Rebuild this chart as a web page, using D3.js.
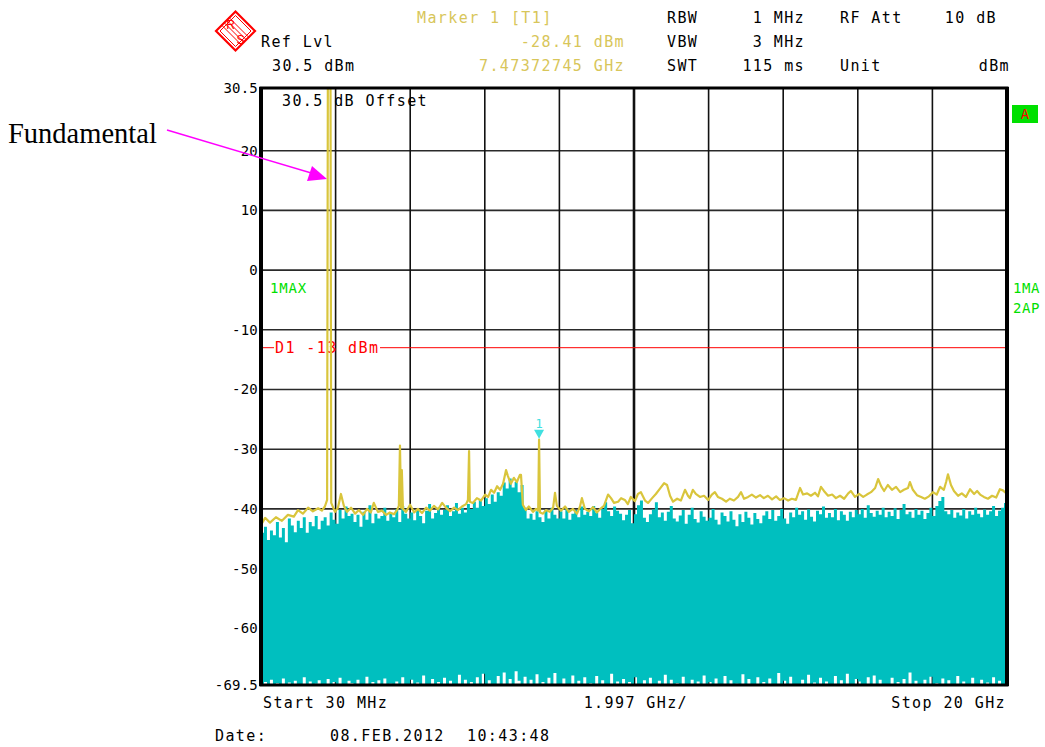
<!DOCTYPE html>
<html>
<head>
<meta charset="utf-8">
<script src="https://cdn.jsdelivr.net/npm/d3@7"></script>
<style>
  html, body { margin: 0; padding: 0; background: #fff; }
  svg { display: block; }
</style>
</head>
<body>
<svg id="chart" width="1045" height="747"></svg>
<script>
// ---------------- DATA ----------------
const startGHz = 0.03, stopGHz = 20, divGHz = 1.997;
const refLevel = 30.5, bottomLevel = -69.5;
const yTickValues = [30.5, 20, 10, 0, -10, -20, -30, -40, -50, -60, -69.5];
const displayLine = -13;
const markerFreq = 7.47372745, markerLevel = -28.41;

// Trace 1 (max hold, yellow): [GHz, dBm]
const trace1 = [
 [0.03,-42.7],[0.14,-41.5],[0.27,-42.3],[0.43,-41.4],[0.59,-42.0],[0.75,-41.0],[0.91,-41.3],[1.02,-40.2],
 [1.15,-40.8],[1.29,-39.8],[1.42,-40.4],[1.56,-39.9],[1.66,-40.3],[1.74,-39.6],[1.80,-38.5],[1.82,33],
 [1.89,33],[1.91,-39.0],[2.01,-40.5],[2.09,-39.8],[2.17,-37.5],[2.25,-39.5],[2.33,-40.5],[2.44,-39.8],
 [2.55,-40.8],[2.65,-40.2],[2.76,-41.0],[2.87,-40.0],[2.97,-40.6],[3.05,-39.0],[3.16,-40.5],[3.27,-40.3],
 [3.38,-41.0],[3.48,-40.6],[3.59,-40.9],[3.67,-40.2],[3.72,-39.5],[3.75,-29.4],[3.78,-39.8],[3.80,-33.5],
 [3.83,-40.0],[3.91,-40.5],[4.02,-39.3],[4.13,-40.6],[4.23,-40.0],[4.34,-40.7],[4.45,-39.8],[4.55,-40.3],
 [4.66,-39.5],[4.77,-40.1],[4.88,-39.0],[4.98,-39.8],[5.09,-40.4],[5.20,-39.8],[5.30,-40.2],[5.41,-39.6],
 [5.52,-39.2],[5.57,-38.5],[5.60,-30.3],[5.62,-38.8],[5.70,-39.0],[5.81,-38.2],[5.92,-38.6],[6.03,-37.6],
 [6.11,-38.0],[6.19,-36.8],[6.27,-37.3],[6.35,-36.2],[6.43,-36.8],[6.51,-35.8],[6.59,-33.5],[6.64,-34.5],
 [6.72,-35.8],[6.80,-34.8],[6.88,-35.5],[6.96,-34.3],[6.99,-34.3],[7.04,-39.3],[7.12,-40.2],[7.20,-39.6],
 [7.31,-40.5],[7.39,-40.0],[7.45,-40.3],[7.4737,-28.41],[7.50,-40.6],[7.58,-40.8],[7.66,-40.2],[7.76,-40.5],
 [7.85,-39.8],[7.90,-37.3],[7.95,-39.5],[8.06,-40.3],[8.17,-39.6],[8.27,-40.5],[8.38,-40.0],[8.49,-40.8],
 [8.57,-39.6],[8.62,-38.2],[8.70,-40.0],[8.81,-40.4],[8.92,-39.7],[9.02,-40.6],[9.13,-39.9],[9.21,-39.5],
 [9.32,-37.6],[9.40,-38.2],[9.48,-39.0],[9.59,-38.8],[9.67,-38.2],[9.77,-38.5],[9.85,-39.2],[9.93,-38.0],
 [10.04,-38.7],[10.12,-37.5],[10.20,-37.2],[10.31,-38.6],[10.39,-39.0],[10.50,-38.2],[10.60,-37.5],[10.71,-36.6],
 [10.82,-35.7],[10.90,-36.0],[10.98,-37.8],[11.06,-38.8],[11.17,-38.3],[11.27,-38.6],[11.38,-36.8],[11.46,-37.8],
 [11.51,-38.2],[11.59,-36.8],[11.67,-37.5],[11.78,-38.0],[11.89,-37.8],[12.00,-38.5],[12.10,-37.6],[12.18,-37.2],
 [12.26,-38.0],[12.37,-38.3],[12.48,-38.8],[12.58,-38.3],[12.69,-38.6],[12.80,-38.0],[12.88,-37.2],[12.96,-38.3],
 [13.07,-38.0],[13.17,-37.6],[13.28,-38.1],[13.39,-37.7],[13.49,-38.2],[13.60,-37.8],[13.71,-38.4],[13.82,-37.9],
 [13.92,-38.5],[14.03,-38.2],[14.14,-38.6],[14.24,-38.3],[14.35,-38.5],[14.46,-36.5],[14.54,-37.6],[14.65,-37.4],
 [14.75,-37.8],[14.86,-37.3],[14.94,-37.9],[15.02,-36.3],[15.10,-37.0],[15.21,-37.8],[15.32,-37.6],[15.42,-38.2],
 [15.53,-37.8],[15.64,-38.3],[15.75,-37.4],[15.82,-37.0],[15.93,-38.0],[16.04,-37.5],[16.15,-38.0],[16.25,-37.6],
 [16.36,-37.2],[16.47,-36.5],[16.55,-35.0],[16.63,-36.2],[16.71,-37.0],[16.81,-36.0],[16.92,-36.8],[17.03,-36.3],
 [17.14,-37.2],[17.24,-36.8],[17.35,-36.5],[17.40,-35.5],[17.48,-36.8],[17.59,-37.7],[17.70,-38.0],[17.80,-38.3],
 [17.91,-37.9],[18.02,-37.2],[18.12,-37.6],[18.21,-36.3],[18.31,-36.8],[18.37,-35.5],[18.42,-34.2],[18.50,-36.0],
 [18.58,-37.0],[18.69,-37.8],[18.79,-37.4],[18.90,-38.0],[19.01,-36.7],[19.12,-37.5],[19.20,-37.0],[19.28,-37.6],
 [19.38,-38.0],[19.49,-38.3],[19.60,-37.8],[19.71,-38.1],[19.81,-36.7],[19.89,-36.9],[20.00,-37.5]
];

// Trace 2 (auto peak, cyan band): upper and lower level per sweep bin (250 bins)
const trace2Top = [
 -44.0,-43.0,-45.2,-43.6,-44.4,-42.2,-44.8,-43.2,-45.6,-41.6,
 -42.8,-43.9,-42.0,-43.2,-41.4,-44.0,-42.2,-42.9,-41.2,-43.4,
 -42.0,-41.4,-42.8,-40.6,-41.8,-42.5,-40.2,-41.6,-39.6,-41.2,
 -40.8,-42.2,-41.0,-43.0,-40.5,-41.8,-39.4,-42.4,-40.8,-41.6,
 -41.2,-39.8,-42.0,-40.6,-41.4,-40.0,-42.2,-39.5,-40.8,-41.6,
 -40.6,-41.9,-40.0,-41.2,-42.4,-40.3,-39.2,-41.6,-40.7,-39.8,
 -41.0,-40.2,-39.4,-41.2,-40.4,-39.0,-40.8,-39.8,-40.6,-39.2,
 -40.0,-38.8,-39.8,-38.5,-39.5,-38.2,-39.2,-37.6,-38.8,-37.2,
 -37.8,-35.6,-36.6,-34.9,-36.4,-35.5,-37.2,-36.0,-39.8,-41.6,
 -40.8,-41.8,-40.4,-41.4,-42.2,-40.2,-41.6,-39.8,-41.0,-41.6,
 -40.4,-41.6,-39.9,-41.8,-40.8,-40.2,-41.4,-39.6,-41.0,-40.5,
 -41.2,-39.5,-40.6,-41.5,-40.0,-38.9,-40.4,-41.2,-39.6,-40.3,
 -40.8,-41.9,-41.0,-40.2,-42.4,-40.9,-39.4,-38.6,-41.5,-42.2,
 -40.9,-40.1,-38.9,-41.4,-40.6,-42.0,-40.5,-39.5,-41.6,-42.1,
 -41.1,-40.2,-42.5,-41.0,-39.8,-41.7,-42.3,-40.4,-41.3,-42.0,
 -41.5,-40.0,-41.8,-42.6,-40.6,-41.2,-42.1,-40.4,-41.8,-42.9,
 -40.9,-42.2,-40.5,-41.5,-42.6,-40.7,-41.7,-42.4,-41.1,-40.4,
 -41.7,-40.2,-42.0,-41.2,-40.0,-41.6,-42.5,-40.6,-41.4,-39.8,
 -41.0,-40.4,-41.8,-40.1,-41.3,-42.1,-40.3,-40.9,-39.6,-41.5,
 -40.7,-41.4,-40.0,-41.9,-40.4,-41.0,-42.0,-40.5,-41.4,-40.2,
 -40.9,-40.0,-41.5,-39.4,-40.7,-41.3,-40.3,-41.0,-39.8,-41.4,
 -40.5,-41.2,-39.9,-41.7,-40.2,-39.2,-40.9,-40.5,-41.5,-40.0,
 -41.0,-40.3,-41.7,-40.7,-39.8,-41.2,-39.5,-38.7,-38.0,-40.4,
 -40.9,-40.2,-41.5,-40.6,-41.1,-40.0,-41.6,-40.4,-41.0,-39.8,
 -40.8,-41.4,-40.1,-41.0,-40.4,-39.5,-41.2,-40.3,-39.8,-39.0
];
const trace2Bottom = [
 -69.5,-69.0,-69.5,-68.6,-69.5,-69.2,-69.5,-68.4,-69.5,-69.1,
 -69.5,-68.8,-69.5,-69.5,-68.2,-69.5,-68.9,-69.5,-69.3,-68.7,
 -69.5,-69.5,-68.5,-69.5,-69.0,-69.5,-68.3,-69.5,-69.5,-68.8,
 -69.2,-69.5,-68.6,-69.5,-69.5,-68.1,-69.5,-69.0,-69.5,-68.7,
 -69.5,-68.4,-69.5,-69.3,-69.5,-68.9,-69.5,-68.2,-69.5,-69.5,
 -68.6,-69.5,-69.1,-69.5,-67.9,-69.5,-69.5,-68.5,-69.5,-69.0,
 -69.5,-68.3,-69.5,-68.8,-69.5,-69.5,-67.8,-69.5,-68.6,-69.5,
 -69.0,-69.5,-68.2,-69.5,-67.6,-69.5,-68.7,-69.5,-69.5,-68.0,
 -69.5,-67.4,-69.5,-68.5,-69.5,-67.2,-68.8,-69.5,-68.1,-69.5,
 -68.6,-69.5,-67.7,-69.5,-69.0,-69.5,-68.3,-69.5,-67.5,-69.5,
 -69.5,-68.4,-69.5,-69.5,-67.9,-69.5,-68.8,-69.5,-68.2,-69.5,
 -69.2,-69.5,-68.0,-69.5,-68.7,-69.5,-69.5,-67.6,-69.5,-68.9,
 -69.5,-68.5,-69.5,-69.0,-69.5,-68.2,-69.5,-69.5,-68.7,-69.5,
 -68.3,-69.5,-69.5,-68.8,-69.5,-67.8,-69.5,-68.6,-69.5,-69.2,
 -69.5,-68.1,-69.5,-69.5,-68.6,-69.5,-68.9,-69.5,-67.9,-69.5,
 -69.0,-69.5,-68.4,-69.5,-69.5,-68.0,-69.5,-68.7,-69.5,-69.3,
 -69.5,-67.7,-69.5,-68.5,-69.5,-69.5,-68.2,-69.5,-69.0,-69.5,
 -68.4,-69.5,-69.5,-67.5,-69.5,-68.8,-69.5,-68.1,-69.5,-69.5,
 -69.5,-68.6,-69.5,-67.8,-69.5,-69.1,-69.5,-68.3,-69.5,-68.9,
 -69.5,-69.5,-68.0,-69.5,-68.7,-69.5,-67.6,-69.5,-69.5,-68.5,
 -68.9,-69.5,-69.5,-68.2,-69.5,-67.9,-69.5,-68.6,-69.5,-69.5,
 -69.5,-68.3,-69.5,-69.0,-69.5,-68.5,-69.5,-67.4,-69.5,-68.8,
 -69.5,-69.5,-68.6,-69.5,-68.1,-69.5,-69.2,-69.5,-68.4,-69.5,
 -68.7,-69.5,-69.5,-68.0,-69.5,-68.9,-69.5,-69.5,-68.3,-69.5,
 -69.5,-68.6,-69.5,-69.1,-69.5,-68.2,-69.5,-68.8,-69.5,-69.5
];

// header / annotation texts
const headerLeft = ["Ref Lvl", "30.5 dBm"];
const markerTexts = ["Marker 1 [T1]", "-28.41 dBm", "7.47372745 GHz"];
const settingsRows = [
  ["RBW", "1 MHz", "RF Att", "10 dB"],
  ["VBW", "3 MHz", "", ""],
  ["SWT", "115 ms", "Unit", "dBm"]
];
const footer = ["Start 30 MHz", "1.997 GHz/", "Stop 20 GHz"];
const dateTexts = ["Date:", "08.FEB.2012", "10:43:48"];

// ---------------- DRAW ----------------
const svg = d3.select("#chart");
const W = 1045, H = 747;
const L = 261, R = 1007, T = 88, B = 685;
const MONO = "'DejaVu Sans Mono', 'Liberation Mono', monospace";
const YEL = "#d9c53c", CYAN = "#00bfbf", GREEN = "#00e000", RED = "#ff0000";

svg.append("rect").attr("width", W).attr("height", H).attr("fill", "#fff");

const x = d3.scaleLinear().domain([startGHz, stopGHz]).range([L, R]);
const y = d3.scaleLinear().domain([bottomLevel, refLevel]).range([B, T]);

// grid
const gridG = svg.append("g");
const hGrid = yTickValues.filter(v => v !== refLevel && v !== bottomLevel);
gridG.selectAll("line.h").data(hGrid).join("line")
  .attr("x1", L).attr("x2", R).attr("y1", d => y(d)).attr("y2", d => y(d))
  .attr("stroke", "#2a2a2a").attr("stroke-width", 1.6);
const vGrid = d3.range(1, 10).map(k => startGHz + k * divGHz);
gridG.selectAll("line.v").data(vGrid).join("line")
  .attr("x1", d => x(d)).attr("x2", d => x(d)).attr("y1", T).attr("y2", B)
  .attr("stroke", "#111").attr("stroke-width", (d, i) => i === 4 ? 2.6 : 1.6);

// clip
svg.append("clipPath").attr("id", "plotclip").append("rect")
  .attr("x", L).attr("y", T).attr("width", R - L).attr("height", B - T);

// text in plot: offset
svg.append("text").attr("x", 282).attr("y", 106).text("30.5 dB Offset")
  .attr("font-family", MONO).attr("font-size", 15).attr("letter-spacing", 1.4).attr("fill", "#000");

// display line D1
svg.append("line").attr("x1", L).attr("x2", 274).attr("y1", y(displayLine)).attr("y2", y(displayLine))
  .attr("stroke", RED).attr("stroke-width", 1);
svg.append("line").attr("x1", 380).attr("x2", R).attr("y1", y(displayLine)).attr("y2", y(displayLine))
  .attr("stroke", RED).attr("stroke-width", 1);
svg.append("text").attr("x", 275).attr("y", y(displayLine) + 5.5).text("D1 -13 dBm")
  .attr("font-family", MONO).attr("font-size", 15).attr("letter-spacing", 1.4).attr("fill", RED);

// cyan band
const nBins = trace2Top.length;
const binW = (stopGHz - startGHz) / nBins;
const bandData = trace2Top.map((t, i) => ({ f: startGHz + i * binW, top: t, bot: trace2Bottom[i] }));
bandData.push({ f: stopGHz, top: trace2Top[nBins - 1], bot: trace2Bottom[nBins - 1] });
const area = d3.area().curve(d3.curveStepAfter)
  .x(d => x(d.f)).y0(d => y(d.bot)).y1(d => y(d.top));
svg.append("path").datum(bandData).attr("d", area).attr("fill", CYAN)
  .attr("clip-path", "url(#plotclip)");

// yellow trace
const line = d3.line().x(d => x(d[0])).y(d => y(d[1]));
svg.append("path").datum(trace1).attr("d", line).attr("fill", "none")
  .attr("stroke", YEL).attr("stroke-width", 2.2).attr("stroke-linejoin", "round")
  .attr("clip-path", "url(#plotclip)");

// marker
const mx = x(markerFreq), my = y(markerLevel);
svg.append("path").attr("d", `M${mx - 5},${my - 10} L${mx + 5},${my - 10} L${mx},${my - 1} Z`).attr("fill", "#40e0e0");
svg.append("text").attr("x", mx).attr("y", my - 12).attr("text-anchor", "middle").text("1")
  .attr("font-family", MONO).attr("font-size", 12).attr("fill", "#40e0e0");

// frame
svg.append("rect").attr("x", L).attr("y", T).attr("width", R - L).attr("height", B - T)
  .attr("fill", "none").attr("stroke", "#000").attr("stroke-width", 3);
svg.append("line").attr("x1", L).attr("x2", L).attr("y1", T - 1).attr("y2", B + 1).attr("stroke", "#000").attr("stroke-width", 4);
svg.append("line").attr("x1", R).attr("x2", R).attr("y1", T - 1).attr("y2", B + 1).attr("stroke", "#000").attr("stroke-width", 4);

// y axis labels
const yAxis = d3.axisLeft(y).tickValues(yTickValues).tickSize(0).tickPadding(3)
  .tickFormat(d => String(d));
const yAx = svg.append("g").attr("transform", `translate(${L},0)`).call(yAxis);
yAx.select(".domain").remove();
yAx.selectAll("text").attr("font-family", MONO).attr("font-size", 14).attr("letter-spacing", 0.2).attr("fill", "#000");

// legends in plot
svg.append("text").attr("x", 270).attr("y", 293).text("1MAX").attr("font-family", MONO)
  .attr("font-size", 14).attr("letter-spacing", 0.8).attr("fill", GREEN);
svg.append("rect").attr("x", 1012).attr("y", 105).attr("width", 26).attr("height", 18).attr("fill", "#00e000");
svg.append("text").attr("x", 1025).attr("y", 119).attr("text-anchor", "middle").text("A")
  .attr("font-family", MONO).attr("font-size", 14).attr("fill", RED);
svg.append("text").attr("x", 1013).attr("y", 293).text("1MA").attr("font-family", MONO)
  .attr("font-size", 14).attr("letter-spacing", 0.6).attr("fill", GREEN);
svg.append("text").attr("x", 1013).attr("y", 313).text("2AP").attr("font-family", MONO)
  .attr("font-size", 14).attr("letter-spacing", 0.6).attr("fill", GREEN);

// header
function ht(xp, yp, s, color, anchor) {
  svg.append("text").attr("x", xp).attr("y", yp).text(s)
    .attr("font-family", MONO).attr("font-size", 15).attr("letter-spacing", 1.4)
    .attr("fill", color || "#000").attr("text-anchor", anchor || "start");
}
ht(261, 47, headerLeft[0]);
ht(272, 71, headerLeft[1]);
ht(417, 23, markerTexts[0], "#d8c65a");
ht(625, 47, markerTexts[1], "#d8c65a", "end");
ht(625, 71, markerTexts[2], "#d8c65a", "end");
const rowY = [23, 47, 71];
settingsRows.forEach((r, i) => {
  ht(667, rowY[i], r[0]);
  if (r[1]) ht(805, rowY[i], r[1], "#000", "end");
  if (r[2]) ht(840, rowY[i], r[2]);
  if (r[3]) ht(i === 2 ? 1010 : 997, rowY[i], r[3], "#000", "end");
});

// footer
ht(263, 708, footer[0]);
ht(688, 708, footer[1], "#000", "end");
ht(1006, 708, footer[2], "#000", "end");
ht(215, 741, dateTexts[0]);
ht(330, 741, dateTexts[1]);
ht(467, 741, dateTexts[2]);

// R&S logo
const lg = svg.append("g").attr("transform", "translate(235.5,31)");
const d1 = 19.5, d2 = 15.5;
lg.append("path").attr("d", `M0,${-d1} L${d1},0 L0,${d1} L${-d1},0 Z`).attr("fill", "none").attr("stroke", RED).attr("stroke-width", 2.2);
lg.append("path").attr("d", `M0,${-d2} L${d2},0 L0,${d2} L${-d2},0 Z`).attr("fill", "none").attr("stroke", RED).attr("stroke-width", 1);
[-4, -1.5, 1, 3.5].forEach(o => {
  lg.append("line").attr("x1", -10 + o).attr("y1", -10 - o).attr("x2", 10 + o).attr("y2", 10 - o)
    .attr("stroke", RED).attr("stroke-width", 1);
});
lg.append("text").attr("x", -5).attr("y", -2).attr("text-anchor", "middle").text("R")
  .attr("font-family", "'Liberation Sans', sans-serif").attr("font-size", 12).attr("fill", RED);
lg.append("text").attr("x", 5).attr("y", 13).attr("text-anchor", "middle").text("S")
  .attr("font-family", "'Liberation Sans', sans-serif").attr("font-size", 12).attr("fill", RED);

// Fundamental annotation
svg.append("text").attr("x", 8).attr("y", 143).text("Fundamental")
  .attr("font-family", "'Liberation Serif', 'Times New Roman', serif").attr("font-size", 28.5).attr("fill", "#000");
svg.append("line").attr("x1", 167).attr("y1", 130).attr("x2", 318).attr("y2", 175)
  .attr("stroke", "#ff00ff").attr("stroke-width", 1.5);
svg.append("path").attr("d", "M327,179 L307,181 L312,166 Z").attr("fill", "#ff00ff");
</script>
</body>
</html>
